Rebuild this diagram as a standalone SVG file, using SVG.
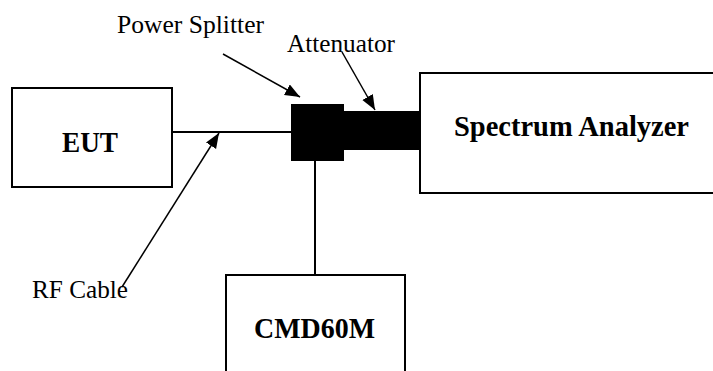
<svg xmlns="http://www.w3.org/2000/svg" width="713" height="371" viewBox="0 0 713 371">
<style>
.box{fill:#fff;stroke:#000;stroke-width:2}
.blk{fill:#000;stroke:none}
.ln{stroke:#000;stroke-width:2;fill:none}
.ptr{stroke:#000;stroke-width:1.5;fill:none;marker-end:url(#ah)}
.bt{font-family:"Liberation Serif","Times New Roman",serif;font-weight:bold;font-size:30px}
.lt{font-family:"Liberation Serif","Times New Roman",serif;font-size:25px}
</style>
<defs>
<marker id="ah" markerUnits="userSpaceOnUse" markerWidth="16" markerHeight="14" refX="15" refY="6" orient="auto">
<path d="M0,0 L15,6 L0,12 Z" fill="#000"/>
</marker>
</defs>
<rect width="713" height="371" fill="#fff"/>
<g id="connectors">
<line class="ln" x1="171" y1="132" x2="292" y2="132"/>
<line class="ln" x1="315" y1="160" x2="315" y2="275"/>
<line class="ptr" x1="223" y1="54" x2="300" y2="97"/>
<line class="ptr" x1="342" y1="52" x2="375" y2="110"/>
<line class="ptr" x1="122" y1="287" x2="219" y2="133"/>
</g>
<g id="eut">
<rect class="box" x="12" y="88" width="160" height="99"/>
<text class="bt" x="62" y="152" textLength="56" lengthAdjust="spacingAndGlyphs">EUT</text>
</g>
<g id="spectrum-analyzer">
<rect class="box" x="420" y="73" width="300" height="120"/>
<text class="bt" x="454" y="136" textLength="235" lengthAdjust="spacingAndGlyphs">Spectrum Analyzer</text>
</g>
<g id="cmd60m">
<rect class="box" x="226" y="275" width="179" height="110"/>
<text class="bt" x="254" y="338" textLength="121" lengthAdjust="spacingAndGlyphs">CMD60M</text>
</g>
<g id="power-splitter">
<rect class="blk" x="291" y="104" width="53" height="57"/>
</g>
<g id="attenuator">
<rect class="blk" x="343" y="111" width="77" height="39"/>
</g>
<g id="labels">
<text class="lt" x="117" y="33" textLength="147" lengthAdjust="spacingAndGlyphs">Power Splitter</text>
<text class="lt" x="287" y="52" textLength="108" lengthAdjust="spacingAndGlyphs">Attenuator</text>
<text class="lt" x="32" y="298" textLength="96" lengthAdjust="spacingAndGlyphs">RF Cable</text>
</g>
</svg>
